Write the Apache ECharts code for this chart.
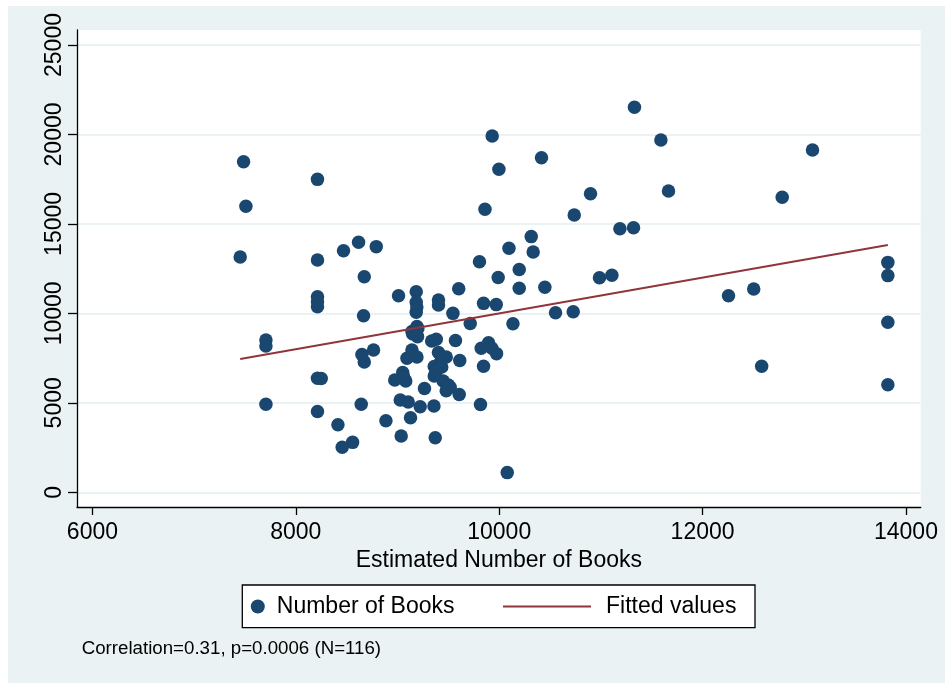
<!DOCTYPE html>
<html>
<head>
<meta charset="utf-8">
<script src="https://cdn.jsdelivr.net/npm/echarts@6/dist/echarts.min.js"></script>
<style>
  html, body { margin: 0; padding: 0; background: #ffffff; }
  #chart { position: absolute; left: 8px; top: 6px; width: 937px; height: 677px; }
</style>
</head>
<body>
<div id="chart"></div>
<script>
// Estimated vs. counted number of books per record (N = 116)
const estimatedBooks = [
  7486, 8213, 7509, 7453, 8213, 8469, 8617, 8791, 8673, 8213,
  8213, 8666, 9010, 9184, 9184, 9184, 9191, 9403, 9403, 9545,
  9602, 9715, 9806, 9846, 9971, 9990, 10096, 10197, 10197, 10135,
  9931, 9997, 9860, 7706, 7706, 9142, 9197, 9336, 9381, 9570,
  8650, 8764, 8673, 9142, 9093, 9191, 9403, 9479, 9612, 9823,
  9895, 9928, 9974, 9846, 9361, 9435, 9361, 9051, 8973, 9081,
  8213, 8250, 9265, 9449, 9518, 9479, 9607, 7706, 8213, 8643,
  9027, 9105, 9223, 9358, 9816, 8414, 8886, 9128, 8558, 8456,
  9036, 9371, 10079, 10416, 11330, 11590, 11665, 12783, 10898, 10738,
  11187, 11321, 10315, 10334, 10449, 10986, 11108, 12255, 12503, 10554,
  10728, 12581, 13081, 13822, 13822, 13822, 13822,
  9150, 9200, 9420, 9380, 9500, 9060, 9890, 8213, 9190
];
const numberOfBooks = [
  18480, 17490, 15990, 13150, 12980, 13500, 13970, 13730, 12050, 10930,
  10370, 9870, 10990, 11210, 10620, 10060, 9260, 10750, 10470, 10000,
  11380, 9430, 12890, 10560, 10490, 12010, 13640, 12450, 11400, 9420,
  19910, 18050, 15820, 8510, 8180, 8980, 8700, 8460, 8550, 8480,
  7700, 7950, 7280, 7950, 7490, 7560, 7810, 7560, 7370, 8050,
  8360, 8050, 7750, 7040, 7030, 7000, 6500, 6700, 6280, 6220,
  6370, 6360, 5800, 6220, 5870, 5680, 5470, 4920, 4520, 4920,
  5160, 5050, 4780, 4820, 4910, 3780, 4000, 4170, 2790, 2520,
  3150, 3050, 1100, 18700, 21520, 19690, 16840, 16490, 16690, 15500,
  14730, 14790, 14290, 13430, 11460, 11990, 12130, 10990, 11360, 10040,
  10090, 7050, 19130, 12850, 12110, 9500, 6010,
  8850, 9150, 7250, 6750, 6000, 6450, 8200, 10650, 10350
];
// Linear fit evaluated at the smallest and largest estimate
const fittedX = [7453, 13822];
const fittedY = [7450, 13820];

const xTicks = [6000, 8000, 10000, 12000, 14000];
const yTicks = [0, 5000, 10000, 15000, 20000, 25000];

const seriesNames = ['Number of Books', 'Fitted values'];
const xTitle = 'Estimated Number of Books';
const note = 'Correlation=0.31, p=0.0006 (N=116)';

const FONT = '"Liberation Sans", Arial, Helvetica, sans-serif';
const NAVY = '#1a476f';
const MAROON = '#90353b';
const PANEL = '#eaf2f3';

const scatterData = estimatedBooks.map((x, i) => [x, numberOfBooks[i]]);
const lineData = fittedX.map((x, i) => [x, fittedY[i]]);
const plain = v => String(v);

const chart = echarts.init(document.getElementById('chart'), null, { renderer: 'canvas' });

chart.setOption({
  backgroundColor: PANEL,
  animation: false,
  textStyle: { fontFamily: FONT },
  grid: {
    left: 69, top: 24, right: 24.3, bottom: 176,
    show: true, backgroundColor: '#ffffff', borderWidth: 0
  },
  xAxis: {
    type: 'value',
    min: 5848, max: 14145,
    name: xTitle,
    nameLocation: 'middle',
    nameGap: 41,
    nameTextStyle: { fontSize: 23, color: '#000', fontFamily: FONT },
    axisLine: { show: true, onZero: false, lineStyle: { color: '#000', width: 1.3 } },
    axisTick: { show: true, length: 8, customValues: xTicks, lineStyle: { color: '#000', width: 1.3 } },
    axisLabel: { customValues: xTicks, formatter: plain, margin: 14, fontSize: 23, color: '#000', fontFamily: FONT },
    splitLine: { show: false }
  },
  yAxis: {
    type: 'value',
    min: -822, max: 25838,
    axisLine: { show: true, onZero: false, lineStyle: { color: '#000', width: 1.3 } },
    axisTick: { show: true, length: 9, customValues: yTicks, lineStyle: { color: '#000', width: 1.3 } },
    axisLabel: { customValues: yTicks, formatter: plain, rotate: 90, margin: 11, fontSize: 23, color: '#000', fontFamily: FONT },
    splitLine: { show: true, lineStyle: { color: PANEL, width: 2 } }
  },
  legend: [
    {
      data: [seriesNames[0]],
      left: 242.8, top: 589, padding: 0,
      itemWidth: 14, itemHeight: 14, icon: 'circle',
      selectedMode: false,
      textStyle: { fontSize: 23, color: '#000', fontFamily: FONT, padding: [0, 0, 0, 7] }
    },
    {
      data: [seriesNames[1]],
      left: 494, top: 589, padding: 0,
      itemWidth: 88, itemHeight: 14,
      selectedMode: false,
      itemStyle: { color: 'rgba(0,0,0,0)', borderWidth: 0 },
      lineStyle: { color: MAROON, width: 2 },
      textStyle: { fontSize: 23, color: '#000', fontFamily: FONT, padding: [0, 0, 0, 10] }
    }
  ],
  graphic: [
    {
      type: 'rect', z: 1,
      shape: { x: 234.3, y: 579, width: 512.7, height: 42.7 },
      style: { fill: '#ffffff', stroke: '#000', lineWidth: 1.3 }
    },
    {
      type: 'text', z: 5,
      x: 73.7, y: 643.3,
      style: { text: note, fontSize: 18.7, fill: '#000', fontFamily: FONT, verticalAlign: 'middle', align: 'left' }
    }
  ],
  series: [
    {
      name: seriesNames[0],
      type: 'scatter',
      data: scatterData,
      symbol: 'circle',
      symbolSize: 13.5,
      itemStyle: { color: NAVY, opacity: 1 },
      emphasis: { disabled: true }
    },
    {
      name: seriesNames[1],
      type: 'line',
      data: lineData,
      symbol: 'none',
      lineStyle: { color: MAROON, width: 2 },
      itemStyle: { color: MAROON },
      emphasis: { disabled: true }
    }
  ]
});
</script>
</body>
</html>
